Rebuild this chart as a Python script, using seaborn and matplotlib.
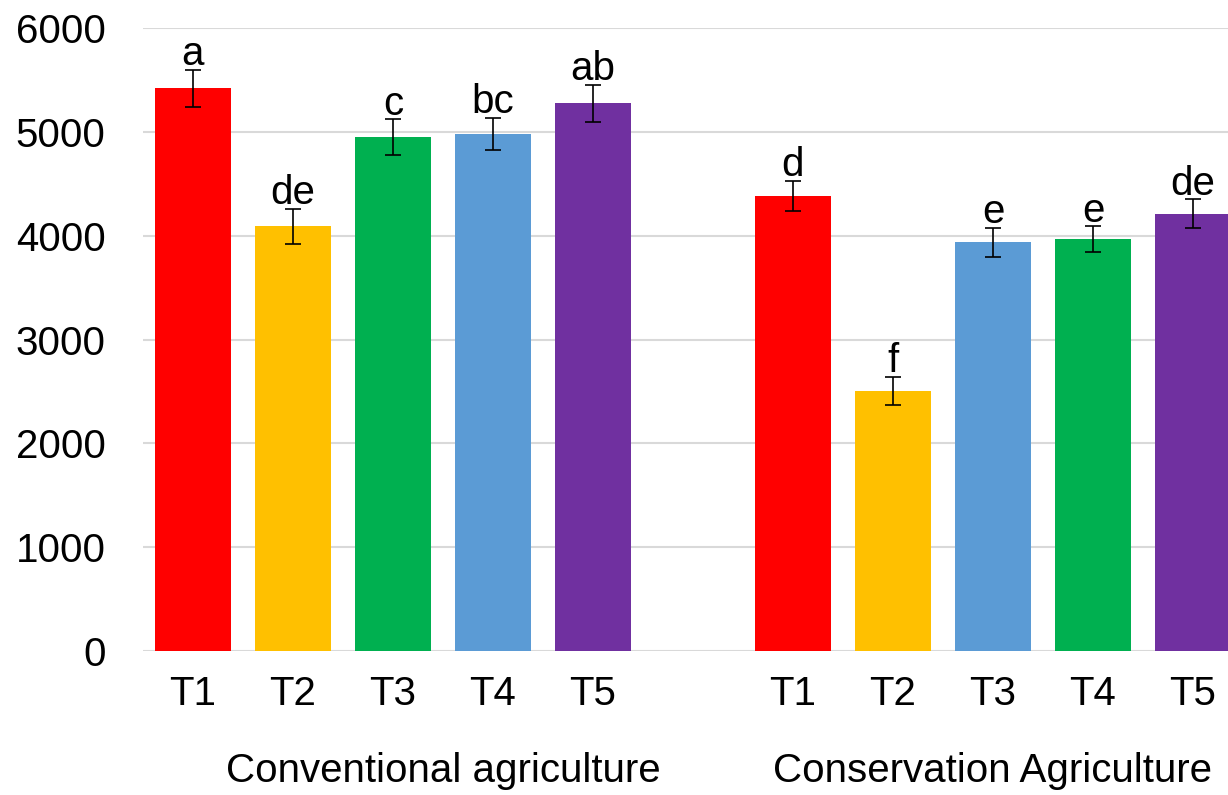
import pandas as pd
import seaborn as sns
import matplotlib.pyplot as plt
import numpy as np

# data
treatments = ["T1", "T2", "T3", "T4", "T5"]
groups = ["Conventional agriculture", "Conservation Agriculture"]
conv_values = [5420, 4090, 4950, 4980, 5275]
conv_errors = [178, 169, 169, 154, 180]
conv_letters = ["a", "de", "c", "bc", "ab"]
cons_values = [4380, 2505, 3935, 3965, 4210]
cons_errors = [146, 138, 138, 124, 140]
cons_letters = ["d", "f", "e", "e", "de"]

red, yellow, green, blue, purple = "#FF0000", "#FFC000", "#00B050", "#5B9BD5", "#7030A0"
conv_colors = [red, yellow, green, blue, purple]
cons_colors = [red, yellow, blue, green, purple]

# build table, leave an empty slot between the groups
conv_pos = np.arange(5)
cons_pos = np.arange(5) + 6
df = pd.DataFrame({
    "pos": np.concatenate([conv_pos, cons_pos]),
    "treatment": treatments + treatments,
    "value": conv_values + cons_values,
    "err": conv_errors + cons_errors,
    "letter": conv_letters + cons_letters,
    "color": conv_colors + cons_colors,
})
df["id"] = [f"{g}-{t}" for g in ("conv", "cons") for t in treatments]
palette = dict(zip(df["id"], df["color"]))

sns.set_style("white")
plt.rcParams["font.family"] = ["Liberation Sans", "DejaVu Sans"]
plt.rcParams["text.color"] = "black"
plt.rcParams["xtick.color"] = "black"
plt.rcParams["ytick.color"] = "black"

fig = plt.figure(figsize=(12.28, 7.95), dpi=100)
ax = fig.add_axes([0.1164, 0.1811, 0.8836, 0.7837])

sns.barplot(data=df, x="pos", y="value", hue="id", palette=palette,
            native_scale=True, dodge=False, width=0.76, legend=False,
            saturation=1, edgecolor="none", ax=ax)

ax.errorbar(df["pos"], df["value"], yerr=df["err"], fmt="none",
            ecolor="black", elinewidth=1.2, capsize=6, capthick=1.2, zorder=5)

for _, r in df.iterrows():
    ax.text(r["pos"], r["value"] + r["err"] + 45, r["letter"], ha="center",
            va="baseline", fontsize=29, color="black", zorder=6)

ax.set_ylim(0, 6000)
ax.set_xlim(-0.5, 10.35)
ax.set_yticks(np.arange(0, 6001, 1000))
ax.set_xticks(df["pos"])
ax.set_xticklabels(df["treatment"])
ax.tick_params(axis="x", labelsize=29, pad=17, length=0, labelcolor="black")
ax.tick_params(axis="y", labelsize=29, pad=27, length=0, labelcolor="black")
ax.set_xlabel("")
ax.set_ylabel("")
ax.yaxis.grid(True, color="#D9D9D9", linewidth=1.5)
ax.set_axisbelow(True)
for s in ax.spines.values():
    s.set_visible(False)

# group labels under the tick labels
centers = [conv_pos.mean() + 0.5, cons_pos.mean()]
trans = ax.get_xaxis_transform()
for c, g in zip(centers, groups):
    ax.text(c, -0.193, g, ha="center", va="center", fontsize=29,
            color="black", transform=trans, clip_on=False)

fig.savefig("out.png", dpi=100)
